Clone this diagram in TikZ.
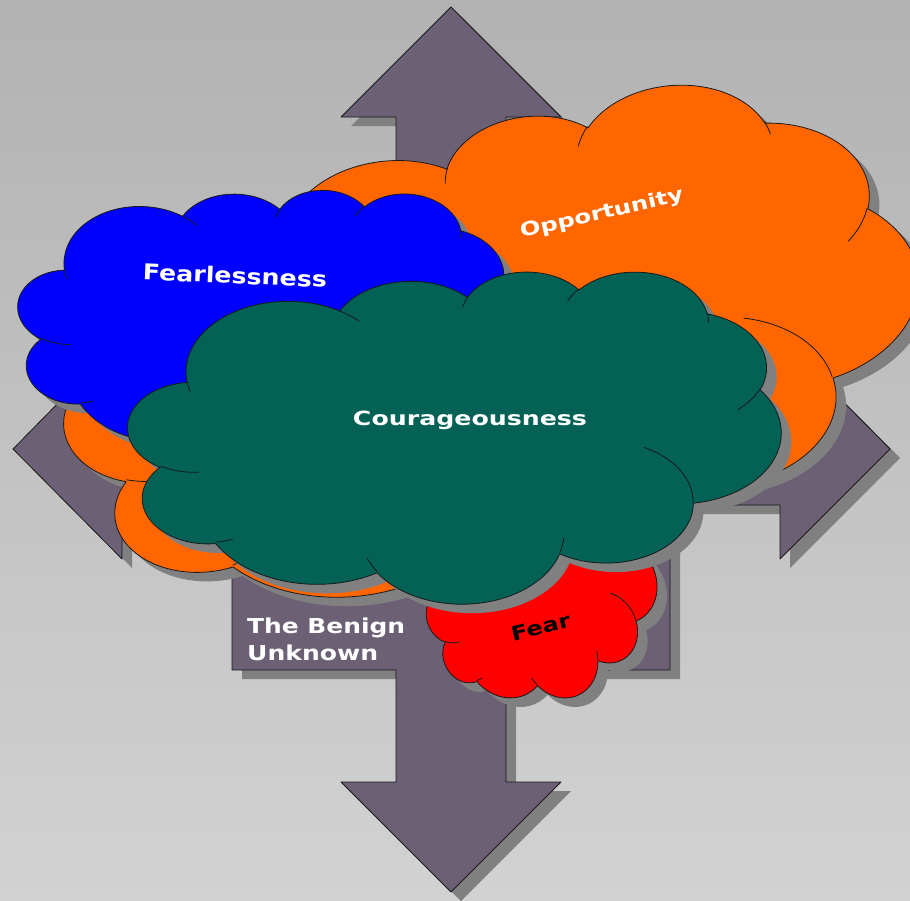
\documentclass[tikz,border=0pt]{standalone}
\usepackage{fontspec}
\setmainfont{DejaVu Sans}
\usepackage{graphicx}
\definecolor{bgtop}{RGB}{178,178,178}
\definecolor{bgbot}{RGB}{210,210,210}
\definecolor{arrowc}{RGB}{108,96,117}
\definecolor{shadowc}{RGB}{128,128,128}
\definecolor{lineC}{RGB}{25,25,25}
\definecolor{orangeC}{RGB}{255,102,0}
\definecolor{blueC}{RGB}{0,0,255}
\definecolor{greenC}{RGB}{3,97,86}
\definecolor{redC}{RGB}{255,0,0}

% convert DrawingML (visual) angles to ellipse parameter angles
\newcommand\cldang[6]{%
  \pgfmathsetmacro\cldS{atan2((#3)*sin(#5),(#4)*cos(#5))}%
  \pgfmathsetmacro\cldE{atan2((#3)*sin((#5)+(#6)),(#4)*cos((#5)+(#6)))}%
  \pgfmathsetmacro\cldD{\cldE-(\cldS)}%
  \pgfmathsetmacro\cldD{ifthenelse(\cldD<0,\cldD+360,\cldD)}%
  \global\let#1\cldS \global\let#2\cldD}
\cldang\cmSa\cmDa{6.753}{9.190}{-190.48748}{123.78053}
\cldang\cmSb\cmDb{5.333}{7.267}{-144.10238}{89.94523}
\cldang\cmSc\cmDc{4.365}{5.945}{-145.80792}{99.72302}
\cldang\cmSd\cmDd{4.857}{6.595}{-130.98607}{117.24173}
\cldang\cmSe\cmDe{5.333}{7.273}{-78.70888}{109.02692}
\cldang\cmSf\cmDf{6.775}{9.220}{-46.26725}{130.269}
\cldang\cmSg\cmDg{5.785}{7.867}{0.62502}{114.03333}
\cldang\cmSh\cmDh{6.752}{9.215}{22.4516}{115.17255}
\cldang\cmSi\cmDi{7.720}{10.543}{66.24263}{75.71102}
\cldang\cmSj\cmDj{4.360}{5.918}{-274.94208}{146.73557}
\cldang\cmSk\cmDk{4.345}{5.945}{-246.8285}{152.51885}
\cldang\ciSa\ciDa{4.345}{5.945}{86.742}{26.4295}
\cldang\ciSb\ciDb{4.360}{5.918}{73.6105}{11.4475}
\cldang\ciSc\ciDc{6.752}{9.215}{137.6242}{14.0811}
\cldang\ciSd\ciDd{6.752}{9.215}{6.4533}{15.9984}
\cldang\ciSe\ciDe{5.785}{7.867}{-70.2924}{70.9174}
\cldang\ciSf\ciDf{5.333}{7.273}{30.3180}{27.7515}
\cldang\ciSg\ciDg{4.857}{6.595}{-13.7443}{14.8589}
\cldang\ciSh\ciDh{4.857}{6.595}{-149.1815}{18.1954}
\cldang\ciSi\ciDi{4.365}{5.945}{-163.4943}{17.6864}
\cldang\ciSj\ciDj{6.753}{9.190}{-66.7070}{12.3194}
\cldang\ciSk\ciDk{6.753}{9.190}{157.6544}{11.8582}

\newcommand\cloudmain{(3.9,14.37)
 arc[x radius=6.753,y radius=9.19,start angle=\cmSa,delta angle=\cmDa]
 arc[x radius=5.333,y radius=7.267,start angle=\cmSb,delta angle=\cmDb]
 arc[x radius=4.365,y radius=5.945,start angle=\cmSc,delta angle=\cmDc]
 arc[x radius=4.857,y radius=6.595,start angle=\cmSd,delta angle=\cmDd]
 arc[x radius=5.333,y radius=7.273,start angle=\cmSe,delta angle=\cmDe]
 arc[x radius=6.775,y radius=9.22,start angle=\cmSf,delta angle=\cmDf]
 arc[x radius=5.785,y radius=7.867,start angle=\cmSg,delta angle=\cmDg]
 arc[x radius=6.752,y radius=9.215,start angle=\cmSh,delta angle=\cmDh]
 arc[x radius=7.72,y radius=10.543,start angle=\cmSi,delta angle=\cmDi]
 arc[x radius=4.36,y radius=5.918,start angle=\cmSj,delta angle=\cmDj]
 arc[x radius=4.345,y radius=5.945,start angle=\cmSk,delta angle=\cmDk] -- cycle}

\newcommand\cloudinner{
 (4.693,26.177) arc[x radius=4.345,y radius=5.945,start angle=\ciSa,delta angle=\ciDa]
 (6.928,34.899) arc[x radius=4.36,y radius=5.918,start angle=\ciSb,delta angle=\ciDb]
 (16.478,39.09) arc[x radius=6.752,y radius=9.215,start angle=\ciSc,delta angle=\ciDc]
 (28.827,34.751) arc[x radius=6.752,y radius=9.215,start angle=\ciSd,delta angle=\ciDd]
 (34.129,22.954) arc[x radius=5.785,y radius=7.867,start angle=\ciSe,delta angle=\ciDe]
 (41.798,15.354) arc[x radius=5.333,y radius=7.273,start angle=\ciSf,delta angle=\ciDf]
 (38.324,5.426) arc[x radius=4.857,y radius=6.595,start angle=\ciSg,delta angle=\ciDg]
 (29.078,3.952) arc[x radius=4.857,y radius=6.595,start angle=\ciSh,delta angle=\ciDh]
 (22.141,4.72) arc[x radius=4.365,y radius=5.945,start angle=\ciSi,delta angle=\ciDi]
 (14,5.192) arc[x radius=6.753,y radius=9.19,start angle=\ciSj,delta angle=\ciDj]
 (4.127,15.789) arc[x radius=6.753,y radius=9.19,start angle=\ciSk,delta angle=\ciDk]}

% #1,#2 origin (screen px), #3 x-vector, #4 y-vector, #5 fill colour
\newcommand\drawcloud[5]{%
  \begin{scope}[shift={(#1+10,#2+9)}, x={#3}, y={#4}]
    \fill[shadowc] \cloudmain;
  \end{scope}
  \begin{scope}[shift={(#1,#2)}, x={#3}, y={#4}]
    \filldraw[fill=#5, outline] \cloudmain;
    \draw[outline] \cloudinner;
  \end{scope}}

\newcommand\quadarrow{(451,7) -- (561,117) -- (506,117) -- (506,228) -- (670,228)
 -- (670,393) -- (780,393) -- (780,338) -- (890,449) -- (780,559) -- (780,505)
 -- (670,505) -- (670,670) -- (506,670) -- (506,782) -- (561,782) -- (451,892)
 -- (341,782) -- (396,782) -- (396,670) -- (232,670) -- (232,505) -- (122,505)
 -- (122,559) -- (13,449) -- (122,338) -- (122,393) -- (232,393) -- (232,228)
 -- (396,228) -- (396,117) -- (341,117) -- cycle}

\tikzset{
  outline/.style={draw=lineC, line width=0.8pt, line join=round},
  lbl/.style={font=\bfseries, text=white, inner sep=0pt}
}

\begin{document}
\begin{tikzpicture}[x=1pt,y=-1pt]
\useasboundingbox (0,0) rectangle (910,900);
\shade[top color=bgtop, bottom color=bgbot] (0,0) rectangle (910,900);

% four-way arrow
\fill[shadowc, shift={(10,9)}] \quadarrow;
\filldraw[fill=arrowc, outline] \quadarrow;

% clouds, back to front
\drawcloud{-4.5}{230.4}{(19.57pt,4.282pt)}{(3.494pt,-10.189pt)}{orangeC}
\drawcloud{402}{532.1}{(5.25pt,1.180pt)}{(1.25pt,-4.408pt)}{redC}
\drawcloud{23.72}{176.32}{(11.447pt,-0.4998pt)}{(-0.2767pt,-6.337pt)}{blueC}
\drawcloud{128}{271}{(15.116pt,0pt)}{(0pt,-7.685pt)}{greenC}

% labels
\node[lbl, rotate=13, anchor=base] (opp) at (603,219) {\resizebox{167pt}{14.5pt}{Opportunity}};
\node[lbl, rotate=-2.5] (fearl) at (235,275.5) {\resizebox{184pt}{16.5pt}{Fearlessness}};
\node[lbl, anchor=base] (cour) at (470,425) {\resizebox{234pt}{14.5pt}{Courageousness}};
\node[lbl, anchor=base west] (ben1) at (247,633) {\resizebox{158pt}{15.6pt}{The Benign}};
\node[lbl, anchor=base west] (ben2) at (247,660) {\resizebox{131pt}{15.6pt}{Unknown}};
\node[lbl, text=black, rotate=14] (fear) at (541,627) {\resizebox{60pt}{14.5pt}{Fear}};
\end{tikzpicture}
\end{document}
